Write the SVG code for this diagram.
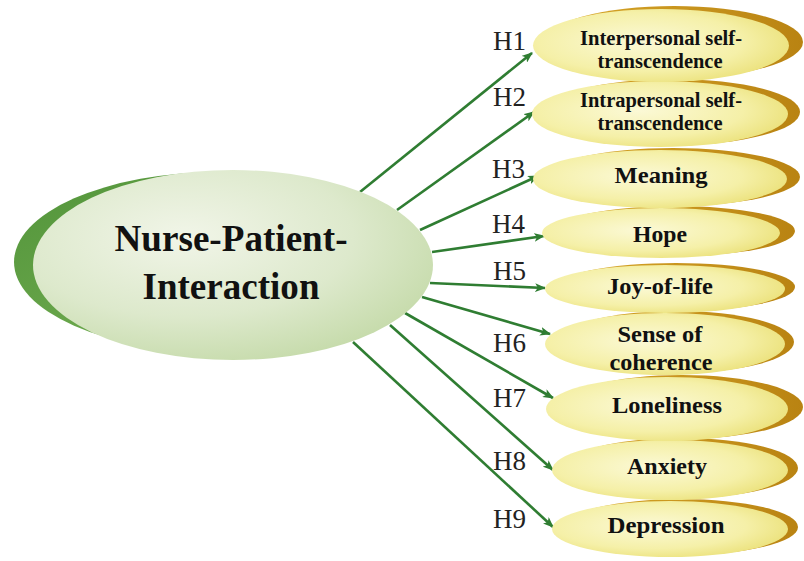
<svg xmlns="http://www.w3.org/2000/svg" width="804" height="561" viewBox="0 0 804 561">
<defs>
  <radialGradient id="gLight" cx="0.38" cy="0.35" r="0.7">
    <stop offset="0" stop-color="#f1f5e8"/>
    <stop offset="0.6" stop-color="#dde9cc"/>
    <stop offset="1" stop-color="#c6dbab"/>
  </radialGradient>
  <linearGradient id="gDark" x1="0" y1="0" x2="1" y2="1">
    <stop offset="0" stop-color="#52943a"/>
    <stop offset="1" stop-color="#7db65a"/>
  </linearGradient>
  <radialGradient id="gYel" cx="0.42" cy="0.45" r="0.62">
    <stop offset="0" stop-color="#fbf9d6"/>
    <stop offset="0.65" stop-color="#f5f0a8"/>
    <stop offset="1" stop-color="#ebe17a"/>
  </radialGradient>
  <linearGradient id="gGold" x1="0" y1="0" x2="1" y2="0">
    <stop offset="0" stop-color="#d9a82a"/>
    <stop offset="1" stop-color="#b98312"/>
  </linearGradient>
  <marker id="arr" viewBox="0 0 10 8" refX="9" refY="4" markerWidth="11" markerHeight="9" markerUnits="userSpaceOnUse" orient="auto">
    <path d="M0,0 L10,4 L0,8 L2.5,4 z" fill="#2f7d32"/>
  </marker>
</defs>
<style>
  .gold { fill: url(#gGold); }
  .yel { fill: url(#gYel); }
  .lbl { font-family: "Liberation Serif", "Times New Roman", serif; font-weight: bold; font-size: 23px; fill: #111; text-anchor: middle; }
  .lbl2 { font-family: "Liberation Serif", "Times New Roman", serif; font-weight: bold; font-size: 20px; fill: #111; text-anchor: middle; }
  .big { font-family: "Liberation Serif", "Times New Roman", serif; font-weight: bold; font-size: 38px; fill: #111; text-anchor: middle; }
  .h { font-family: "Liberation Serif", "Times New Roman", serif; font-size: 27px; fill: #222; }
  .con line { stroke: #2f7d32; stroke-width: 2.6; marker-end: url(#arr); }
</style>
<rect width="804" height="561" fill="#ffffff"/>

<g id="connectors" class="con">
  <line x1="360" y1="192" x2="532" y2="53"/>
  <line x1="397" y1="210" x2="534" y2="112"/>
  <line x1="420" y1="230" x2="538" y2="176"/>
  <line x1="432" y1="252" x2="544" y2="236"/>
  <line x1="430" y1="283" x2="545" y2="288"/>
  <line x1="422" y1="297" x2="550" y2="334"/>
  <line x1="405" y1="313" x2="553" y2="398"/>
  <line x1="390" y1="325" x2="553" y2="470"/>
  <line x1="353" y1="342" x2="553" y2="527"/>
</g>

<g id="nurse-patient-interaction">
  <ellipse cx="219" cy="262" rx="205" ry="90" fill="url(#gDark)"/>
  <ellipse cx="233" cy="265" rx="200" ry="95" fill="url(#gLight)"/>
  <text class="big" x="231" y="251" textLength="233" lengthAdjust="spacingAndGlyphs">Nurse-Patient-</text>
  <text class="big" x="231" y="299" textLength="177" lengthAdjust="spacingAndGlyphs">Interaction</text>
</g>

<g id="depression">
  <ellipse class="gold" cx="681" cy="527" rx="117" ry="28"/>
  <ellipse class="yel" cx="670" cy="529" rx="118" ry="28"/>
  <text class="lbl" x="666" y="533" textLength="117" lengthAdjust="spacingAndGlyphs">Depression</text>
</g>
<g id="anxiety">
  <ellipse class="gold" cx="681" cy="468" rx="117" ry="30"/>
  <ellipse class="yel" cx="670" cy="470" rx="118" ry="30"/>
  <text class="lbl" x="667" y="474" textLength="80" lengthAdjust="spacingAndGlyphs">Anxiety</text>
</g>
<g id="loneliness">
  <ellipse class="gold" cx="682" cy="407" rx="121" ry="32"/>
  <ellipse class="yel" cx="667" cy="409" rx="121" ry="32"/>
  <text class="lbl" x="667" y="413" textLength="110" lengthAdjust="spacingAndGlyphs">Loneliness</text>
</g>
<g id="sense-of-coherence">
  <ellipse class="gold" cx="676" cy="342" rx="118" ry="31"/>
  <ellipse class="yel" cx="665" cy="344" rx="120" ry="31"/>
  <text class="lbl" x="660" y="342" textLength="85" lengthAdjust="spacingAndGlyphs">Sense of</text>
  <text class="lbl" x="661" y="370" textLength="103" lengthAdjust="spacingAndGlyphs">coherence</text>
</g>
<g id="joy-of-life">
  <ellipse class="gold" cx="676" cy="287" rx="119" ry="24"/>
  <ellipse class="yel" cx="665" cy="289" rx="120" ry="24"/>
  <text class="lbl" x="660" y="294" textLength="106" lengthAdjust="spacingAndGlyphs">Joy-of-life</text>
</g>
<g id="hope">
  <ellipse class="gold" cx="675" cy="231" rx="120" ry="25"/>
  <ellipse class="yel" cx="661" cy="233" rx="119" ry="25"/>
  <text class="lbl" x="660" y="242" textLength="54" lengthAdjust="spacingAndGlyphs">Hope</text>
</g>
<g id="meaning">
  <ellipse class="gold" cx="673" cy="177" rx="127" ry="29"/>
  <ellipse class="yel" cx="660" cy="179" rx="127" ry="29"/>
  <text class="lbl" x="661" y="183" textLength="93" lengthAdjust="spacingAndGlyphs">Meaning</text>
</g>
<g id="intrapersonal-self-transcendence">
  <ellipse class="gold" cx="673" cy="112" rx="127" ry="33"/>
  <ellipse class="yel" cx="660" cy="114" rx="128" ry="33"/>
  <text class="lbl2" x="661" y="107" textLength="162" lengthAdjust="spacingAndGlyphs">Intrapersonal self-</text>
  <text class="lbl2" x="660" y="130" textLength="125" lengthAdjust="spacingAndGlyphs">transcendence</text>
</g>
<g id="interpersonal-self-transcendence">
  <ellipse class="gold" cx="674" cy="42" rx="129" ry="36"/>
  <ellipse class="yel" cx="661" cy="45.500" rx="128" ry="36.500"/>
  <text class="lbl2" x="661" y="45" textLength="162" lengthAdjust="spacingAndGlyphs">Interpersonal self-</text>
  <text class="lbl2" x="660" y="68" textLength="125" lengthAdjust="spacingAndGlyphs">transcendence</text>
</g>

<g id="h-labels">
  <text class="h" x="493" y="50">H1</text>
  <text class="h" x="493" y="106">H2</text>
  <text class="h" x="492" y="178">H3</text>
  <text class="h" x="492" y="233">H4</text>
  <text class="h" x="493" y="280">H5</text>
  <text class="h" x="493" y="352">H6</text>
  <text class="h" x="493" y="407">H7</text>
  <text class="h" x="493" y="470">H8</text>
  <text class="h" x="493" y="528">H9</text>
</g>
</svg>
